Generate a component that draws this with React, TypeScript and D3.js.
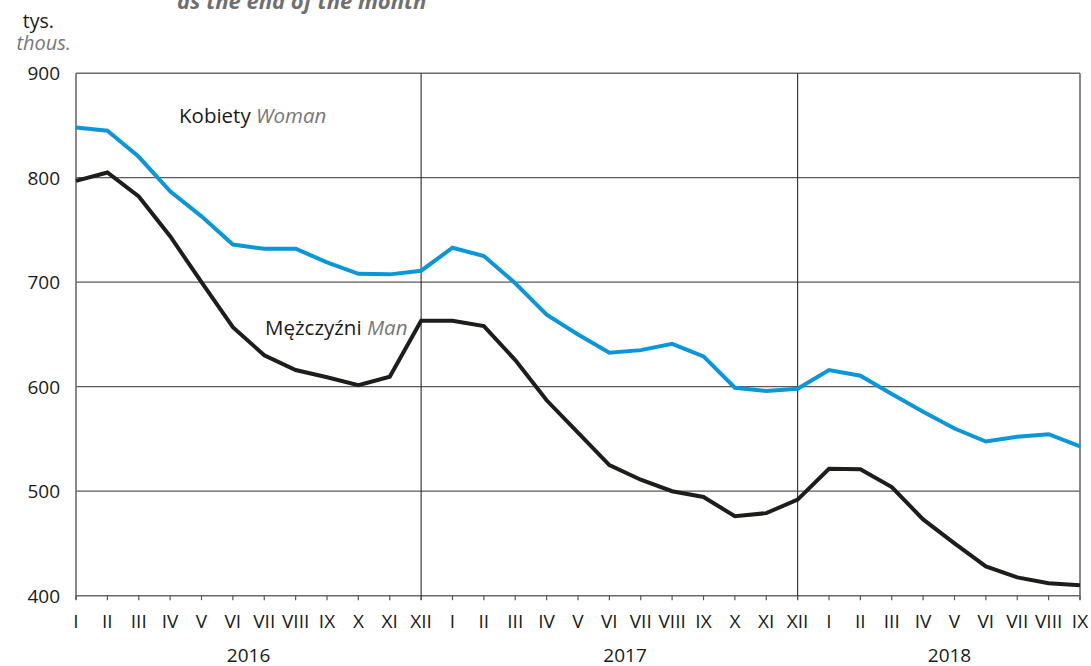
import React from 'react';
import * as d3 from 'd3';

const months = ['I', 'II', 'III', 'IV', 'V', 'VI', 'VII', 'VIII', 'IX', 'X', 'XI', 'XII'];
const years = ['2016', '2017', '2018'];
const monthLabels = [...months, ...months, ...months.slice(0, 9)];
const yTicks = [400, 500, 600, 700, 800, 900];

const women = [848, 845, 820, 787, 763, 736, 732, 732, 719, 708, 707.5, 711,
  733, 725, 699, 669, 650, 632.5, 635, 641, 629, 599, 596, 598,
  616, 610.5, 593, 576, 560, 547.5, 552, 554.5, 543];

const men = [797, 805, 782, 744, 700, 657, 630, 616, 609, 601.5, 609.5, 663,
  663, 658, 625.5, 587, 556, 525, 511, 500, 494.5, 476, 479, 492,
  521.5, 521, 504, 473, 450, 428, 417.5, 412, 410];

const W = 1091;
const H = 666;
const font = '"Open Sans", "Noto Sans", sans-serif';

const App = () => {
  const x = d3.scaleLinear().domain([0, monthLabels.length - 1]).range([76, 1080]);
  const y = d3.scaleLinear().domain([400, 900]).range([595.7, 73.2]);

  const line = d3.line<number>()
    .x((d, i) => x(i))
    .y(d => y(d));

  const yearCenters = [
    (x(0) + x(11)) / 2,
    (x(12) + x(23)) / 2,
    (x(24) + x(32)) / 2 - 5,
  ];

  return (
    <svg width={W} height={H} style={{position: 'absolute', left: 0, top: 0, background: '#fff'}} fontFamily={font}>
      <text x={177} y={9} fontSize={22} fontWeight='bold' fontStyle='italic' fill='#6f6f6f'>as the end of the month</text>
      <text x={54} y={28} fontSize={19.5} textAnchor='end' fill='#1a1a1a'>tys.</text>
      <text x={71} y={50} fontSize={20} textAnchor='end' fontStyle='italic' fill='#777'>thous.</text>

      {/* horizontal grid */}
      {yTicks.map(t => (
        <g key={t}>
          <line x1={x(0)} x2={x(32)} y1={y(t)} y2={y(t)} stroke={t === 900 || t === 400 ? '#6a6a6a' : '#5a5a5a'} strokeWidth={t === 900 || t === 400 ? 1.6 : 1.2} />
          <text x={60} y={y(t)} dy='0.36em' fontSize={19} textAnchor='end' fill='#1a1a1a'>{t}</text>
        </g>
      ))}

      {/* frame sides */}
      <line x1={x(0)} x2={x(0)} y1={y(900)} y2={y(400) + 4} stroke='#6a6a6a' strokeWidth={1.6} />
      <line x1={x(32)} x2={x(32)} y1={y(900)} y2={y(400) + 4} stroke='#6a6a6a' strokeWidth={1.6} />
      {[11, 23].map(i => (
        <line key={i} x1={x(i)} x2={x(i)} y1={y(900)} y2={y(400) + 4} stroke='#2a2a2a' strokeWidth={1.1} />
      ))}

      {/* ticks and month labels */}
      {monthLabels.map((m, i) => (
        <g key={i}>
          <line x1={x(i)} x2={x(i)} y1={y(400)} y2={y(400) + 4.5} stroke='#555' strokeWidth={1.2} />
          <text x={x(i)} y={628} fontSize={19} textAnchor='middle' fill='#1a1a1a'>{m}</text>
        </g>
      ))}
      {years.map((yr, i) => (
        <text key={yr} x={yearCenters[i]} y={662} fontSize={19} textAnchor='middle' fill='#1a1a1a'>{yr}</text>
      ))}

      <path d={line(women) || ''} fill='none' stroke='#0a97d9' strokeWidth={4} strokeLinejoin='miter' />
      <path d={line(men) || ''} fill='none' stroke='#1d1d1b' strokeWidth={4} strokeLinejoin='miter' />

      <text x={179} y={123} fontSize={20.5} fill='#1a1a1a'>Kobiety <tspan fontStyle='italic' fill='#777'>Woman</tspan></text>
      <text x={265} y={335} fontSize={20.5} fill='#1a1a1a'>Mężczyźni <tspan fontStyle='italic' fill='#777'>Man</tspan></text>
    </svg>
  );
};

export default App;
